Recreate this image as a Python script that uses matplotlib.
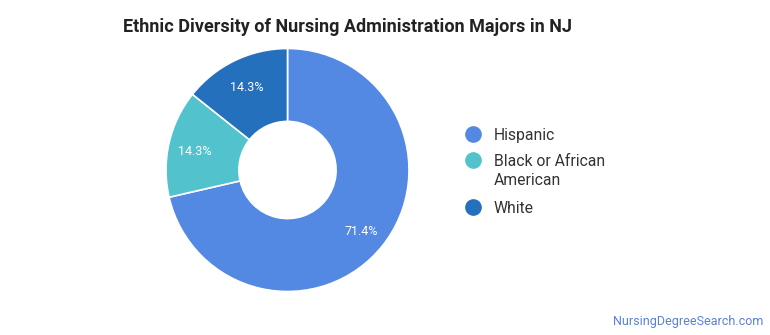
import matplotlib
matplotlib.use('Agg')
import matplotlib.pyplot as plt

plt.rcParams['font.family'] = ['Roboto', 'DejaVu Sans']

# data
labels = ['Hispanic', 'Black or African\nAmerican', 'White']
shares = [71.4, 14.3, 14.3]
colors = ['#5388e3', '#52c3cd', '#2470bd']

W, H = 770, 335
fig = plt.figure(figsize=(W / 100, H / 100), dpi=100)

# donut placed by pixel center / radius
cx, cy, r = 287.5, 170, 121.5
ax = fig.add_axes([(cx - r) / W, (H - cy - r) / H, 2 * r / W, 2 * r / H])
wedges, texts, autotexts = ax.pie(
    shares, colors=colors, startangle=90, counterclock=False,
    autopct='%.1f%%', pctdistance=0.78,
    wedgeprops=dict(width=0.6, edgecolor='white', linewidth=1.2),
    textprops=dict(color='white', fontsize=9))
for t in autotexts:
    x, y = t.get_position()
    t.set_position((x, y - 0.02))
ax.set_xlim(-1, 1)
ax.set_ylim(-1, 1)
ax.set_aspect('equal')

# overlay in pixel coords for title / legend / watermark
ov = fig.add_axes([0, 0, 1, 1], zorder=-1)
ov.set_xlim(0, W)
ov.set_ylim(H, 0)
ov.axis('off')

ov.text(123, 27, 'Ethnic Diversity of Nursing Administration Majors in NJ',
        fontsize=13, fontweight='bold', color='#222222', va='center', ha='left')

# legend
leg_y = [134, 160, 207]
for lab, c, y in zip(labels, colors, leg_y):
    ov.plot(473, y, marker='o', markersize=11, color=c, linestyle='')
    ov.text(494, y - 6, lab, fontsize=11.3, color='#333333', va='top', ha='left',
            linespacing=1.35)

ov.text(763, 321, 'NursingDegreeSearch.com', fontsize=9,
        color='#5b80d8', ha='right', va='center')

fig.savefig('out.png', dpi=100)
